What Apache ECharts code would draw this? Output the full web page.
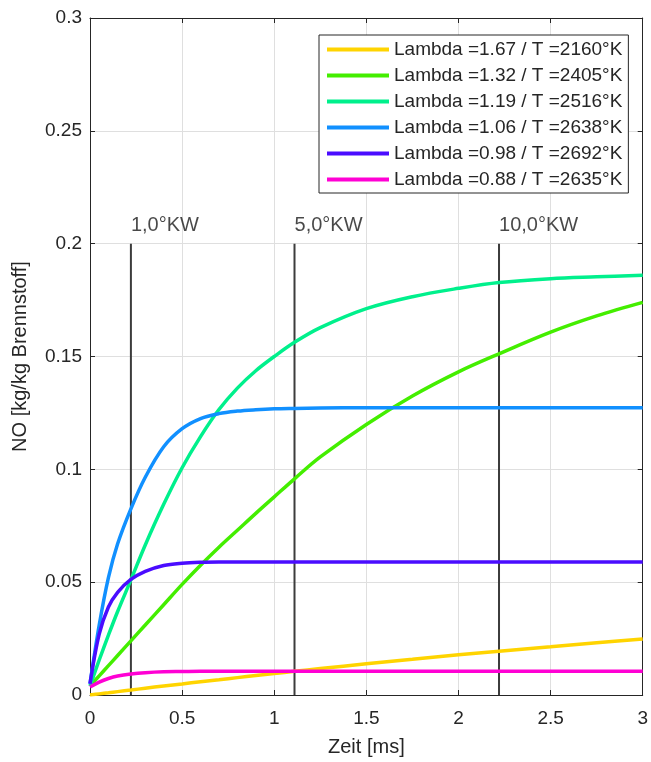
<!DOCTYPE html>
<html>
<head>
<meta charset="utf-8">
<script src="https://cdn.jsdelivr.net/npm/echarts@6/dist/echarts.min.js"></script>
<style>html,body{margin:0;padding:0;background:#fff}#c{width:651px;height:762px}</style>
</head>
<body>
<div id="c"></div>
<script>
// time points [ms]
var time = [0, 0.05, 0.1, 0.15, 0.222, 0.3, 0.4, 0.5, 0.6, 0.7, 0.8, 0.9, 1, 1.11, 1.25, 1.5, 1.75, 2, 2.22, 2.5, 2.75, 3];
var seriesNames = [
  'Lambda =1.67 / T =2160°K',
  'Lambda =1.32 / T =2405°K',
  'Lambda =1.19 / T =2516°K',
  'Lambda =1.06 / T =2638°K',
  'Lambda =0.98 / T =2692°K',
  'Lambda =0.88 / T =2635°K'
];
var no167 = [0, 0.0005, 0.001, 0.0015, 0.0022, 0.003, 0.004, 0.0049, 0.0059, 0.0068, 0.0077, 0.0086, 0.0095, 0.0105, 0.0117, 0.0138, 0.0158, 0.0178, 0.0194, 0.0214, 0.0232, 0.0248];
var no132 = [0.004, 0.0085, 0.013, 0.0175, 0.024, 0.031, 0.040, 0.049, 0.0575, 0.0655, 0.073, 0.0805, 0.0878, 0.0958, 0.1055, 0.1199, 0.1325, 0.1432, 0.1512, 0.1608, 0.168, 0.174];
var no119 = [0.004, 0.0155, 0.0265, 0.037, 0.051, 0.0665, 0.0845, 0.1007, 0.1145, 0.1265, 0.136, 0.1437, 0.150, 0.1563, 0.1628, 0.1712, 0.1765, 0.1802, 0.1828, 0.1845, 0.1853, 0.186];
var no106 = [0.005, 0.031, 0.052, 0.067, 0.0825, 0.0965, 0.110, 0.118, 0.1225, 0.1247, 0.1258, 0.1264, 0.1268, 0.127, 0.1272, 0.1273, 0.1273, 0.1273, 0.1273, 0.1273, 0.1273, 0.1273];
var no098 = [0.005, 0.027, 0.039, 0.0455, 0.0512, 0.0548, 0.0574, 0.0584, 0.0588, 0.0589, 0.0589, 0.0589, 0.0589, 0.0589, 0.0589, 0.0589, 0.0589, 0.0589, 0.0589, 0.0589, 0.0589, 0.0589];
var no088 = [0.0035, 0.0057, 0.0073, 0.0084, 0.0093, 0.0099, 0.0103, 0.0104, 0.0105, 0.0105, 0.0105, 0.0105, 0.0105, 0.0105, 0.0105, 0.0105, 0.0105, 0.0105, 0.0105, 0.0105, 0.0105, 0.0105];
var colors = ['#ffd400', '#44ee00', '#00f08c', '#1190ff', '#4a0cff', '#ff00d4'];
// crank angle markers
var kwTimes = [0.222, 1.11, 2.22];
var kwLabels = ['1,0°KW', '5,0°KW', '10,0°KW'];
var kwTop = 0.2;

var allValues = [no167, no132, no119, no106, no098, no088];
var txt = '#262626';
var FONT = 'Liberation Sans';

var series = allValues.map(function (vals, i) {
  return {
    name: seriesNames[i],
    type: 'line',
    smooth: 0.35,
    showSymbol: false,
    symbol: 'none',
    color: colors[i],
    lineStyle: { width: 3.5, color: colors[i] },
    data: time.map(function (t, j) { return [t, vals[j]]; }),
    z: 3,
    animation: false
  };
});
kwTimes.forEach(function (t, i) {
  series.push({
    type: 'line',
    symbol: 'none',
    lineStyle: { width: 2, color: '#3c3c3c' },
    data: [[t, 0], [t, kwTop]],
    z: 2,
    silent: true,
    animation: false
  });
  series.push({
    type: 'scatter',
    symbolSize: 0,
    data: [[t, kwTop]],
    label: {
      show: true,
      formatter: kwLabels[i],
      position: 'top',
      align: 'left',
      distance: 8,
      fontSize: 20,
      fontFamily: FONT,
      color: '#1a1a1a'
    },
    silent: true,
    animation: false
  });
});

var chart = echarts.init(document.getElementById('c'), null, { renderer: 'canvas' });
chart.setOption({
  animation: false,
  backgroundColor: '#ffffff',
  grid: { left: 90, right: 6, top: 18, bottom: 66, containLabel: false },
  legend: {
    data: seriesNames,
    orient: 'vertical',
    left: 319,
    top: 35,
    padding: [5, 6, 4, 8],
    itemGap: 7,
    itemWidth: 62,
    itemHeight: 4,
    icon: 'rect',
    backgroundColor: '#ffffff',
    borderColor: '#262626',
    borderWidth: 1,
    borderRadius: 0,
    textStyle: { fontSize: 19, fontFamily: FONT, color: txt, lineHeight: 19 },
    z: 10
  },
  xAxis: [{
    type: 'value', min: 0, max: 3, interval: 0.5,
    name: 'Zeit [ms]', nameLocation: 'middle', nameGap: 42,
    nameTextStyle: { fontSize: 20, fontFamily: FONT, color: txt },
    axisLine: { show: true, onZero: false, lineStyle: { color: txt, width: 1 } },
    axisTick: { show: true, inside: true, length: 5, lineStyle: { color: txt } },
    axisLabel: { fontSize: 19, fontFamily: FONT, color: txt, margin: 14 },
    splitLine: { show: true, lineStyle: { color: '#dfdfdf', width: 1 } }
  }, {
    type: 'value', min: 0, max: 3, interval: 0.5, position: 'top',
    axisLine: { show: true, onZero: false, lineStyle: { color: txt, width: 1 } },
    axisTick: { show: true, inside: true, length: 5, lineStyle: { color: txt } },
    axisLabel: { show: false },
    splitLine: { show: false }
  }],
  yAxis: [{
    type: 'value', min: 0, max: 0.3, interval: 0.05,
    name: 'NO [kg/kg Brennstoff]', nameLocation: 'middle', nameGap: 60,
    nameTextStyle: { fontSize: 20, fontFamily: FONT, color: txt },
    axisLine: { show: true, onZero: false, lineStyle: { color: txt, width: 1 } },
    axisTick: { show: true, inside: true, length: 5, lineStyle: { color: txt } },
    axisLabel: { fontSize: 19, fontFamily: FONT, color: txt, margin: 8 },
    splitLine: { show: true, lineStyle: { color: '#dfdfdf', width: 1 } }
  }, {
    type: 'value', min: 0, max: 0.3, interval: 0.05, position: 'right',
    axisLine: { show: true, onZero: false, lineStyle: { color: txt, width: 1 } },
    axisTick: { show: true, inside: true, length: 5, lineStyle: { color: txt } },
    axisLabel: { show: false },
    splitLine: { show: false }
  }],
  series: series
});
</script>
</body>
</html>
